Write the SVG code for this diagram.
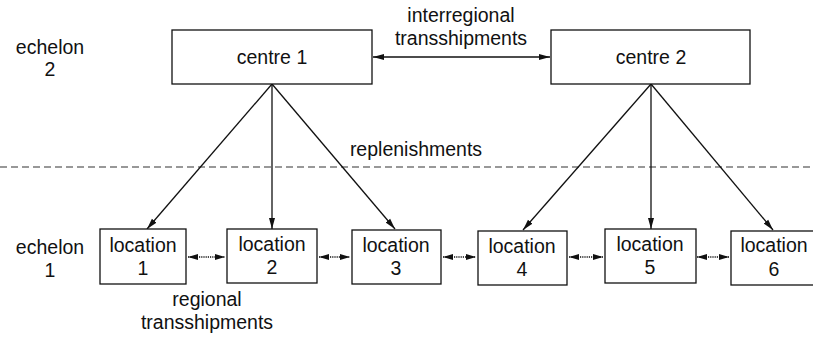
<svg xmlns="http://www.w3.org/2000/svg" width="813" height="337" viewBox="0 0 813 337">
<defs>
<marker id="ah" markerUnits="userSpaceOnUse" markerWidth="12" markerHeight="8" refX="11" refY="3.5" orient="auto-start-reverse" viewBox="0 0 12 8">
<path d="M0,0.5 L11,3.5 L0,6.5 z" fill="#111"/>
</marker>
<marker id="sh" markerUnits="userSpaceOnUse" markerWidth="11" markerHeight="8" refX="10" refY="3.5" orient="auto-start-reverse" viewBox="0 0 11 8">
<path d="M0,0.5 L10,3.5 L0,6.5 z" fill="#111"/>
</marker>
</defs>
<style>
text{font-family:"Liberation Sans",Arial,sans-serif;font-size:19.5px;fill:#111;text-anchor:middle}
.box{fill:#fff;stroke:#111;stroke-width:1.3}
.ln{stroke:#111;stroke-width:1.3;fill:none}
.dot{stroke:#111;stroke-width:1.3;fill:none;stroke-dasharray:1.2 1}
</style>
<rect width="813" height="337" fill="#fff"/>
<line x1="0" y1="167" x2="813" y2="167" stroke="#333" stroke-width="1.2" stroke-dasharray="7 4"/>
<g id="labels">
<text x="50" y="54">echelon</text>
<text x="50" y="76">2</text>
<text x="50" y="254">echelon</text>
<text x="50" y="277">1</text>
<text x="461" y="22">interregional</text>
<text x="461" y="45">transshipments</text>
<text x="416" y="156">replenishments</text>
<text x="207" y="306">regional</text>
<text x="207" y="329">transshipments</text>
</g>
<g id="connectors">
<line class="ln" x1="373" y1="57" x2="550" y2="57" marker-start="url(#ah)" marker-end="url(#ah)"/>
<line class="ln" x1="272" y1="84" x2="147" y2="229" marker-end="url(#ah)"/>
<line class="ln" x1="272" y1="84" x2="272" y2="229" marker-end="url(#ah)"/>
<line class="ln" x1="272" y1="84" x2="395" y2="229" marker-end="url(#ah)"/>
<line class="ln" x1="651" y1="84" x2="523" y2="230" marker-end="url(#ah)"/>
<line class="ln" x1="651" y1="84" x2="651" y2="229" marker-end="url(#ah)"/>
<line class="ln" x1="651" y1="84" x2="773" y2="230" marker-end="url(#ah)"/>
<line class="dot" x1="188" y1="257" x2="225" y2="257" marker-start="url(#sh)" marker-end="url(#sh)"/>
<line class="dot" x1="319" y1="257" x2="350" y2="257" marker-start="url(#sh)" marker-end="url(#sh)"/>
<line class="dot" x1="443" y1="257" x2="476" y2="257" marker-start="url(#sh)" marker-end="url(#sh)"/>
<line class="dot" x1="569" y1="257" x2="603" y2="257" marker-start="url(#sh)" marker-end="url(#sh)"/>
<line class="dot" x1="697" y1="257" x2="729" y2="257" marker-start="url(#sh)" marker-end="url(#sh)"/>
</g>
<g id="centre1"><rect class="box" x="172" y="30" width="200" height="54"/><text x="272" y="64">centre 1</text></g>
<g id="centre2"><rect class="box" x="551" y="30" width="199" height="54"/><text x="651" y="64">centre 2</text></g>
<g id="location1"><rect class="box" x="100" y="229" width="86" height="55"/><text x="143" y="252">location</text><text x="143" y="275">1</text></g>
<g id="location2"><rect class="box" x="227" y="229" width="90" height="54"/><text x="272" y="251">location</text><text x="272" y="274">2</text></g>
<g id="location3"><rect class="box" x="352" y="230" width="89" height="54"/><text x="396" y="252">location</text><text x="396" y="275">3</text></g>
<g id="location4"><rect class="box" x="478" y="231" width="89" height="54"/><text x="522" y="253">location</text><text x="522" y="276">4</text></g>
<g id="location5"><rect class="box" x="605" y="229" width="91" height="54"/><text x="650" y="251">location</text><text x="650" y="274">5</text></g>
<g id="location6"><rect class="box" x="731" y="231" width="87" height="54"/><text x="774" y="252">location</text><text x="774" y="276">6</text></g>
</svg>
